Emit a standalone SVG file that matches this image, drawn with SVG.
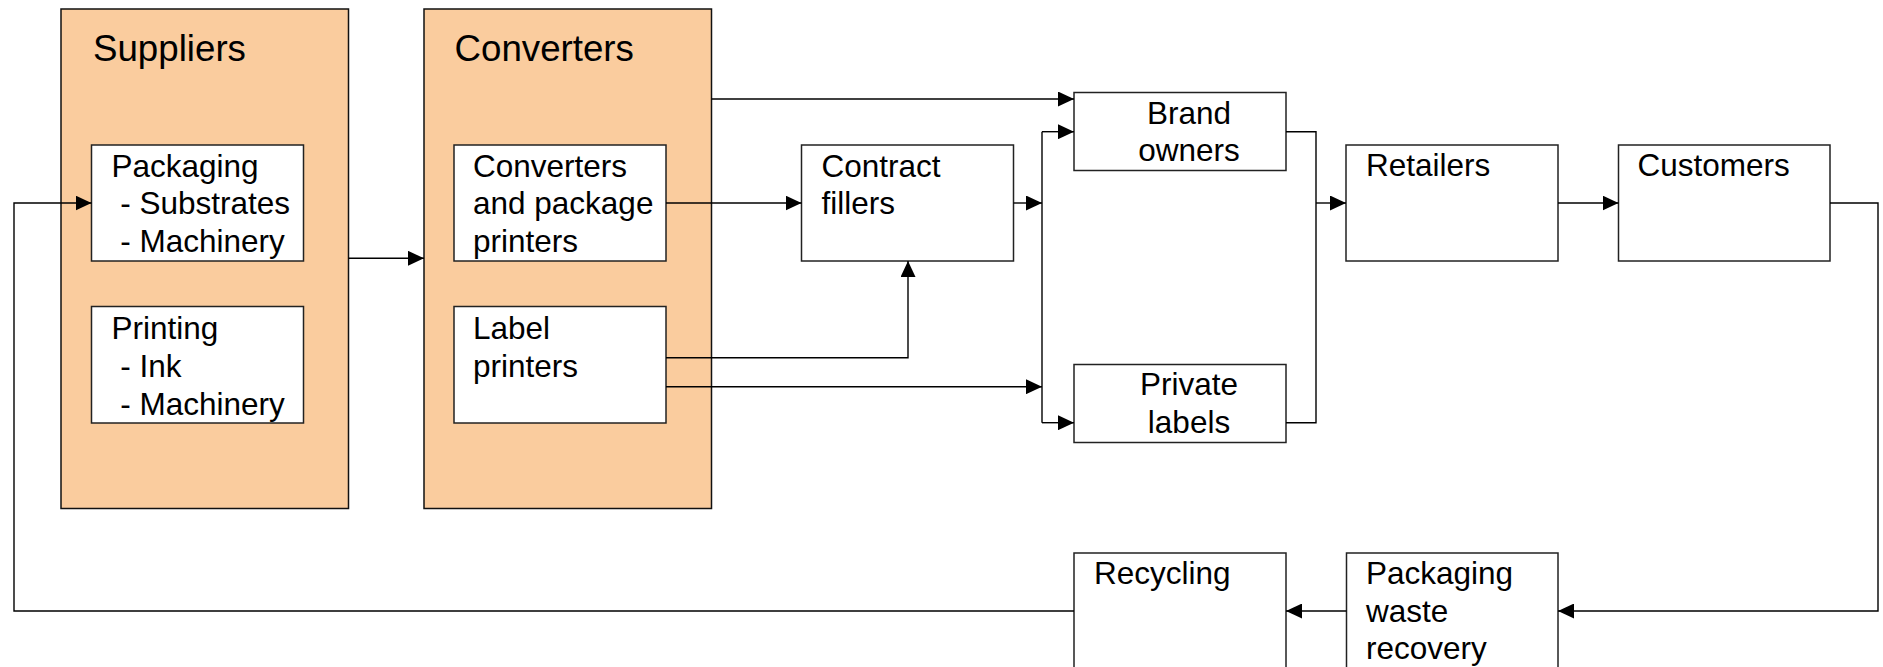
<svg xmlns="http://www.w3.org/2000/svg" width="1883" height="667" viewBox="0 0 1883 667">
  <style>
    .group { fill: #FACC9E; stroke: #111; stroke-width: 1.5; }
    .box { fill: #fff; stroke: #222; stroke-width: 1.5; }
    .title { font-family: "Liberation Sans", Arial, sans-serif; font-size: 36.7px; fill: #000; }
    .lbl { font-family: "Liberation Sans", Arial, sans-serif; font-size: 31.5px; fill: #000; }
    .mid { text-anchor: middle; }
    .wire { fill: none; stroke: #000; stroke-width: 1.4; }
    .arrow { marker-end: url(#head); }
  </style>
  <defs>
    <marker id="head" markerUnits="userSpaceOnUse" markerWidth="16" markerHeight="15" refX="16" refY="7.5" orient="auto">
      <path d="M0,0 L16,7.5 L0,15 z" fill="#000"/>
    </marker>
  </defs>
  <rect width="1883" height="667" fill="#fff"/>

  <!-- Suppliers group -->
  <g id="suppliers">
    <rect class="group" x="61" y="9" width="287.5" height="499.5"/>
    <text class="title" x="93" y="61">Suppliers</text>
  </g>
  <g id="packaging-supply">
    <rect class="box" x="91.5" y="145" width="212" height="116"/>
    <text class="lbl" xml:space="preserve"><tspan x="111.5" y="176.5">Packaging</tspan><tspan x="111.5" y="214"> - Substrates</tspan><tspan x="111.5" y="252"> - Machinery</tspan></text>
  </g>
  <g id="printing-supply">
    <rect class="box" x="91.5" y="306.5" width="212" height="116.5"/>
    <text class="lbl" xml:space="preserve"><tspan x="111.5" y="339">Printing</tspan><tspan x="111.5" y="376.7"> - Ink</tspan><tspan x="111.5" y="415"> - Machinery</tspan></text>
  </g>

  <!-- Converters group -->
  <g id="converters">
    <rect class="group" x="424" y="9" width="287.5" height="499.5"/>
    <text class="title" x="454.5" y="61">Converters</text>
  </g>
  <g id="package-printers">
    <rect class="box" x="454" y="145" width="212" height="116"/>
    <text class="lbl"><tspan x="473" y="176.5">Converters</tspan><tspan x="473" y="214">and package</tspan><tspan x="473" y="252">printers</tspan></text>
  </g>
  <g id="label-printers">
    <rect class="box" x="454" y="306.5" width="212" height="116.5"/>
    <text class="lbl"><tspan x="473" y="339">Label</tspan><tspan x="473" y="376.7">printers</tspan></text>
  </g>

  <g id="contract-fillers">
    <rect class="box" x="801.5" y="145" width="212" height="116"/>
    <text class="lbl"><tspan x="821.5" y="176.5">Contract</tspan><tspan x="821.5" y="214">fillers</tspan></text>
  </g>
  <g id="brand-owners">
    <rect class="box" x="1074" y="92.5" width="212" height="78"/>
    <text class="lbl mid"><tspan x="1189" y="124">Brand</tspan><tspan x="1189" y="161">owners</tspan></text>
  </g>
  <g id="private-labels">
    <rect class="box" x="1074" y="364.5" width="212" height="78"/>
    <text class="lbl mid"><tspan x="1189" y="395">Private</tspan><tspan x="1189" y="433">labels</tspan></text>
  </g>
  <g id="retailers">
    <rect class="box" x="1346" y="145" width="212" height="116"/>
    <text class="lbl" x="1366" y="176">Retailers</text>
  </g>
  <g id="customers">
    <rect class="box" x="1618.5" y="145" width="211.5" height="116"/>
    <text class="lbl" x="1637.5" y="176">Customers</text>
  </g>
  <g id="waste-recovery">
    <rect class="box" x="1346.5" y="553" width="211.5" height="130"/>
    <text class="lbl"><tspan x="1366" y="584">Packaging</tspan><tspan x="1366" y="621.7">waste</tspan><tspan x="1366" y="659">recovery</tspan></text>
  </g>
  <g id="recycling">
    <rect class="box" x="1074" y="553" width="212" height="130"/>
    <text class="lbl" x="1094" y="584.3">Recycling</text>
  </g>

  <!-- Connectors -->
  <g id="connectors">
    <path class="wire arrow" d="M348.5,258.3 H424"/>
    <path class="wire arrow" d="M666,203 H801.5"/>
    <path class="wire arrow" d="M711.5,99 H1074"/>
    <path class="wire arrow" d="M666,357.7 H908 V261"/>
    <path class="wire arrow" d="M666,386.7 H1042"/>
    <path class="wire arrow" d="M1013.5,203 H1042"/>
    <path class="wire" d="M1042,131.7 V422.7"/>
    <path class="wire arrow" d="M1042,131.7 H1074"/>
    <path class="wire arrow" d="M1042,422.7 H1074"/>
    <path class="wire" d="M1286,131.7 H1316 V422.7 H1286"/>
    <path class="wire arrow" d="M1316,203 H1346"/>
    <path class="wire arrow" d="M1558,203 H1618.5"/>
    <path class="wire arrow" d="M1830,203 H1878 V611 H1558"/>
    <path class="wire arrow" d="M1346.5,611 H1286"/>
    <path class="wire arrow" d="M1074,611 H14 V203 H91.5"/>
  </g>
</svg>
